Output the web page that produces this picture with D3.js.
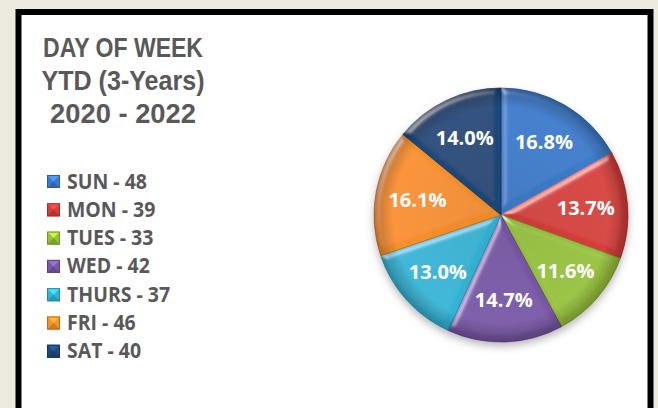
<!DOCTYPE html>
<html><head><meta charset="utf-8">
<script src="https://cdn.jsdelivr.net/npm/d3@7"></script>
<style>html,body{margin:0;padding:0;background:#EDEBE0;}svg{display:block;}</style>
</head><body>
<svg id="c" width="658" height="408"></svg>
<script>
const titleLines = ["DAY OF WEEK", "YTD (3-Years)", "2020 - 2022"];
const days = ["SUN", "MON", "TUES", "WED", "THURS", "FRI", "SAT"];
const counts = [48, 39, 33, 42, 37, 46, 40];
const colors = ["#3A7BCB", "#D53E3A", "#97C23A", "#7957A7", "#33B4D6", "#F7902B", "#1F487A"];

const svg = d3.select("#c");
const defs = svg.append("defs");

// bevel filter
const f = defs.append("filter").attr("id","bevel").attr("x","-10%").attr("y","-10%").attr("width","120%").attr("height","120%");
f.append("feGaussianBlur").attr("in","SourceAlpha").attr("stdDeviation",3).attr("result","blur");
const sp = f.append("feSpecularLighting").attr("in","blur").attr("surfaceScale",4).attr("specularConstant",0.9)
  .attr("specularExponent",22).attr("lighting-color","#ffffff").attr("result","spec");
sp.append("feDistantLight").attr("azimuth",225).attr("elevation",30);
f.append("feComposite").attr("in","spec").attr("in2","SourceAlpha").attr("operator","in").attr("result","specOut");
f.append("feComposite").attr("in","SourceGraphic").attr("in2","specOut").attr("operator","arithmetic")
  .attr("k1",0).attr("k2",1).attr("k3",0.55).attr("k4",0);

const sh = defs.append("filter").attr("id","shadow").attr("x","-20%").attr("y","-20%").attr("width","140%").attr("height","140%");
sh.append("feGaussianBlur").attr("in","SourceAlpha").attr("stdDeviation",4);
sh.append("feOffset").attr("dy",4).attr("result","b");
sh.append("feFlood").attr("flood-color","#000").attr("flood-opacity",0.3);
sh.append("feComposite").attr("in2","b").attr("operator","in");

// radial darkening overlay
const rg = defs.append("radialGradient").attr("id","rim").attr("cx","50%").attr("cy","50%").attr("r","50%");
rg.append("stop").attr("offset","0%").attr("stop-color","#000").attr("stop-opacity",0.05);
rg.append("stop").attr("offset","85%").attr("stop-color","#000").attr("stop-opacity",0);
rg.append("stop").attr("offset","100%").attr("stop-color","#000").attr("stop-opacity",0.25);

// frame
svg.append("rect").attr("x",0).attr("y",0).attr("width",658).attr("height",408).attr("fill","#EDEBE0");
svg.append("rect").attr("x",18.5).attr("y",12).attr("width",632).attr("height",420)
  .attr("fill","#ffffff").attr("stroke","#000").attr("stroke-width",6);

// title
svg.append("g").selectAll("text").data(titleLines).join("text")
  .attr("x",123).attr("y",(d,i)=>57+i*33)
  .attr("text-anchor","middle")
  .attr("font-family","'Liberation Sans', Arial, sans-serif").attr("font-weight","bold")
  .attr("font-size",27).attr("fill","#595959")
  .attr("textLength",(d,i)=>[160,163,146][i]).attr("lengthAdjust","spacingAndGlyphs")
  .text(d=>d);

// legend
const lg = svg.append("g");
const rows = lg.selectAll("g").data(days).join("g")
  .attr("transform",(d,i)=>`translate(47,${175+i*28.3})`);
rows.each(function(d,i){
  const g = d3.select(this);
  const c = d3.color(colors[i]);
  g.append("rect").attr("width",13).attr("height",13).attr("fill",c.formatHex());
  g.append("path").attr("d","M0,0L13,0L6.5,6.5Z").attr("fill",c.brighter(0.7).formatHex());
  g.append("path").attr("d","M0,13L13,13L6.5,6.5Z").attr("fill",c.darker(0.5).formatHex());
  g.append("rect").attr("x",0.5).attr("y",0.5).attr("width",12).attr("height",12).attr("fill","none")
    .attr("stroke",c.darker(0.8).formatHex()).attr("stroke-width",1);
});
rows.append("text").attr("x",20).attr("y",13.5)
  .attr("font-family","'Open Sans', sans-serif").attr("font-weight","bold")
  .attr("font-size",20.5).attr("fill","#595959")
  .text((d,i)=>`${days[i]} - ${counts[i]}`)
  .each(function(){ const w=this.getComputedTextLength(); d3.select(this).attr("textLength", w*0.95).attr("lengthAdjust","spacingAndGlyphs"); });

// pie
const cx = 501, cy = 215, R = 127;
const total = d3.sum(counts);
const pie = d3.pie().sort(null).value(d=>d)(counts);
const arc = d3.arc().innerRadius(0).outerRadius(R);
const pg = svg.append("g").attr("transform",`translate(${cx},${cy})`);
pg.append("circle").attr("r",R).attr("fill","#888").attr("filter","url(#shadow)");
pg.selectAll("path.s").data(pie).join("path").attr("class","s")
  .attr("d",arc).attr("fill",(d,i)=>colors[i]).attr("filter","url(#bevel)")
  .attr("stroke",(d,i)=>d3.color(colors[i]).darker(0.7).formatHex()).attr("stroke-width",0.8);
pg.append("circle").attr("r",R).attr("fill","url(#rim)");

const la = d3.arc().innerRadius(85).outerRadius(85);
pg.selectAll("text").data(pie).join("text")
  .attr("transform",d=>`translate(${la.centroid(d)})`)
  .attr("text-anchor","middle").attr("dy","0.36em")
  .attr("font-family","'Open Sans', sans-serif").attr("font-weight","bold")
  .attr("font-size",20).attr("fill","#ffffff")
  .text(d=>(d.value/total*100).toFixed(1)+"%");
</script>
</body></html>
